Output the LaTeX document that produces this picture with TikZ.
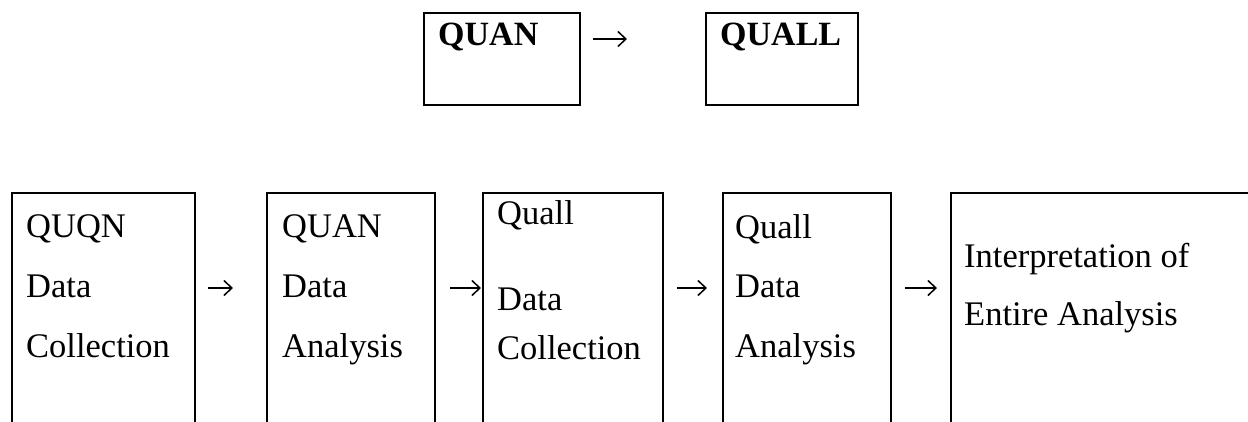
\documentclass[tikz,border=0pt]{standalone}
\usepackage{fontspec}
\setmainfont{Liberation Serif}
\usetikzlibrary{arrows.meta}
\begin{document}
\begin{tikzpicture}[x=1pt,y=-1pt,
  box/.style={draw,line width=2.2pt,inner sep=0pt,anchor=north west},
  lbl/.style={anchor=base west,inner sep=0pt,font=\fontsize{34.5}{40}\selectfont},
  blbl/.style={anchor=base west,inner sep=0pt,font=\fontsize{34}{40}\selectfont\bfseries},
  arr/.style={line width=1.5pt,-{Straight Barb[length=8pt,width=15pt,line width=1.5pt]}}]
\useasboundingbox (0,0) rectangle (1248,421);
\clip (0,0) rectangle (1248,421);
% top row
\node[box,minimum width=156pt,minimum height=92pt] (tq) at (423,12) {};
\node[box,minimum width=152pt,minimum height=92pt] (tl) at (705,12) {};
\node[blbl] (tqt) at (438,45) {QUAN};
\node[blbl] (tlt) at (720,45) {QUALL};
\coordinate (ta1) at (593,39);
\coordinate (ta2) at (627,39);
\draw[arr] (ta1) -- (ta2);
% bottom row
\node[box,minimum width=183pt,minimum height=250pt] (b1) at (11,192) {};
\node[box,minimum width=168pt,minimum height=250pt] (b2) at (266,192) {};
\node[box,minimum width=180pt,minimum height=250pt] (b3) at (482,192) {};
\node[box,minimum width=168pt,minimum height=250pt] (b4) at (722,192) {};
\node[box,minimum width=310pt,minimum height=250pt] (b5) at (950,192) {};
\node[lbl] (b1a) at (26,237) {QUQN};
\node[lbl] (b1b) at (26,297) {Data};
\node[lbl] (b1c) at (26,357) {Collection};
\node[lbl] (b2a) at (282,237) {QUAN};
\node[lbl] (b2b) at (282,297) {Data};
\node[lbl] (b2c) at (282,357) {Analysis};
\node[lbl] (b3a) at (497,224) {Quall};
\node[lbl] (b3b) at (497,310) {Data};
\node[lbl] (b3c) at (497,359) {Collection};
\node[lbl] (b4a) at (735,238) {Quall};
\node[lbl] (b4b) at (735,297) {Data};
\node[lbl] (b4c) at (735,357) {Analysis};
\node[lbl] (b5a) at (964,267) {Interpretation of};
\node[lbl] (b5b) at (964,325) {Entire Analysis};
\coordinate (a1s) at (208,288); \coordinate (a1e) at (233,288);
\coordinate (a2s) at (450,288); \coordinate (a2e) at (481,288);
\coordinate (a3s) at (677,288); \coordinate (a3e) at (707,288);
\coordinate (a4s) at (905,288); \coordinate (a4e) at (937,288);
\draw[arr] (a1s) -- (a1e);
\draw[arr] (a2s) -- (a2e);
\draw[arr] (a3s) -- (a3e);
\draw[arr] (a4s) -- (a4e);
\end{tikzpicture}
\end{document}
